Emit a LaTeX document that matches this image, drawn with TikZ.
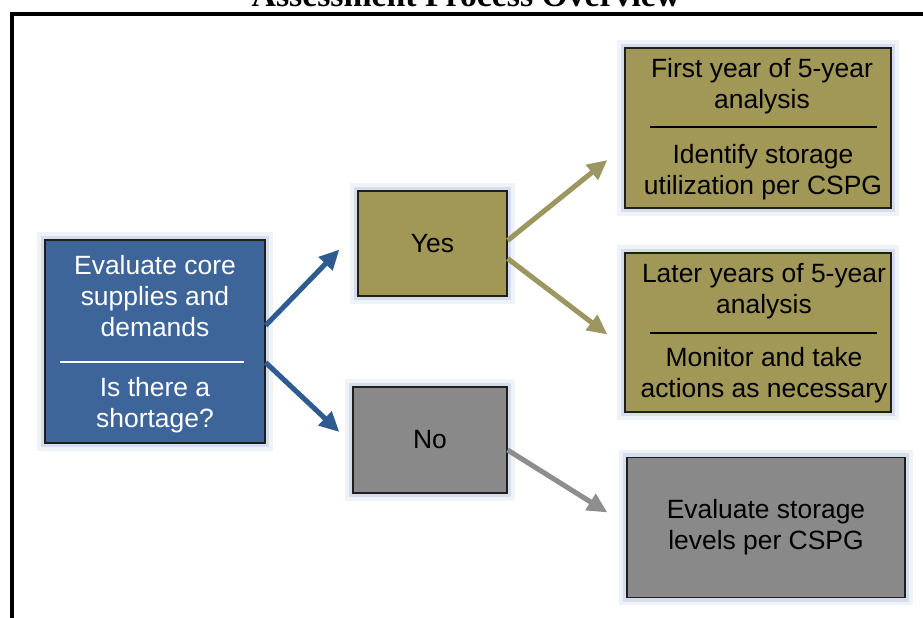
\documentclass[tikz,border=0pt]{standalone}
\usepackage{fontspec}
\setmainfont{Liberation Serif}
\setsansfont{Liberation Sans}
\usetikzlibrary{arrows.meta,calc,positioning}
\definecolor{BoxBlue}{HTML}{3D659A}
\definecolor{BoxOlive}{HTML}{A19757}
\definecolor{BoxGray}{HTML}{898989}
\definecolor{ArrowBlue}{HTML}{2F5C90}
\definecolor{ArrowOlive}{HTML}{9C9660}
\definecolor{ArrowGray}{HTML}{8E8E8E}
\definecolor{Glow}{HTML}{AFC0D8}
\definecolor{Edge}{HTML}{1E1E1E}

\begin{document}
\begin{tikzpicture}[x=0.025cm,y=-0.025cm,every node/.style={font=\sffamily\fontsize{18.8}{22}\selectfont,align=center},
  box/.style={draw=Edge,line width=0.8pt,preaction={draw=Glow,line width=11pt,opacity=.2},preaction={draw=Glow,line width=6pt,opacity=.4}},
  bluebox/.style={box,fill=BoxBlue},olivebox/.style={box,fill=BoxOlive},graybox/.style={box,fill=BoxGray},
  bluearrow/.style={-{Triangle[length=5mm,width=4.6mm]},line width=3.6pt,draw=ArrowBlue},
  olivearrow/.style={-{Triangle[length=5mm,width=4.6mm]},line width=3.6pt,draw=ArrowOlive},
  grayarrow/.style={-{Triangle[length=5mm,width=4.6mm]},line width=3.6pt,draw=ArrowGray}]
\useasboundingbox (0,0) rectangle (923,618);
\fill[white] (0,0) rectangle (923,618);

% title, cut off by the page top
\node[font=\rmfamily\bfseries\fontsize{24}{28}\selectfont,anchor=base] (title) at (466,6) {Assessment Process Overview};
\draw[line width=2.9pt] (12,618) -- (12,14) -- (923,14);

% boxes
\node[bluebox,minimum width=5.5cm,minimum height=5.075cm] (eval) at (155,341.5) {};
\node[olivebox,minimum width=3.725cm,minimum height=2.625cm] (yes) at (432.5,243.5) {Yes};
\node[graybox,minimum width=3.85cm,minimum height=2.65cm] (no) at (430,440) {No};
\node[olivebox,minimum width=6.65cm,minimum height=4cm] (first) at (758,128) {};
\node[olivebox,minimum width=6.65cm,minimum height=3.975cm] (later) at (758,332.5) {};
\node[graybox,minimum width=6.95cm,minimum height=3.5cm] (store) at (766,527.5) {Evaluate storage\\levels per CSPG};

% box texts
\node[text=white] (evaltop) at (155,296) {Evaluate core\\supplies and\\demands};
\node[text=white] (evalbot) at (155,405.5) {Is there a\\shortage?};
\draw[white,line width=1.2pt] (60,362) -- (244,362);
\node (firsttop) at (762,86.5) {First year of 5-year\\analysis};
\node (firstbot) at (763,172) {Identify storage\\utilization per CSPG};
\draw[line width=1.2pt] (650,127) -- (877,127);
\node (latertop) at (764,291.5) {Later years of 5-year\\analysis};
\node (laterbot) at (764,375.5) {Monitor and take\\actions as necessary};
\draw[line width=1.2pt] (650,333) -- (877,333);

% connectors
\draw[bluearrow] ($(eval.east)+(0,-16)$) -- ($(yes.west)+(-18,6)$);
\draw[bluearrow] ($(eval.east)+(0,21)$) -- ($(no.west)+(-13,-8)$);
\draw[olivearrow] ($(yes.east)+(0,-3)$) -- ($(first.west)+(-17,32)$);
\draw[olivearrow] ($(yes.east)+(0,15)$) -- ($(later.west)+(-17,2)$);
\draw[grayarrow] ($(no.east)+(0,10)$) -- ($(store.west)+(-19,-15)$);

\end{tikzpicture}
\end{document}
